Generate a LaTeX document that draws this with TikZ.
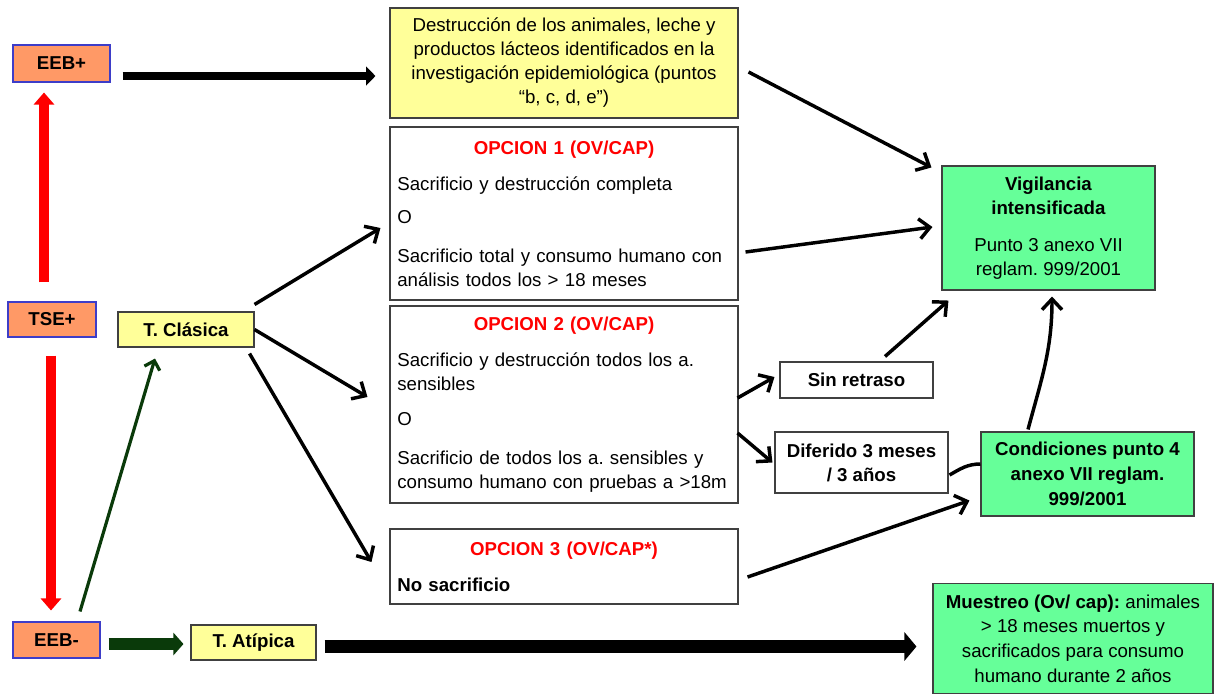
\documentclass[tikz,border=0pt]{standalone}
\usepackage{fontspec}
\setmainfont{Liberation Sans}
\usetikzlibrary{arrows.meta,calc}
\definecolor{salmon}{HTML}{FF9966}
\definecolor{paleyellow}{HTML}{FFFF99}
\definecolor{palegreen}{HTML}{66FF99}
\definecolor{darkgreen}{HTML}{0A3A0A}
\definecolor{boxblue}{HTML}{3D3DC8}
\definecolor{boxgray}{HTML}{404040}
\frenchspacing

\begin{document}
\begin{tikzpicture}[x=0.75pt, y=-0.75pt, font=\fontsize{14pt}{18pt}\selectfont,
    orangebox/.style={draw=boxblue, fill=salmon, line width=0.8pt, inner sep=0pt, font=\fontsize{14pt}{18pt}\selectfont\bfseries},
    yellowbox/.style={draw=boxgray, fill=paleyellow, line width=0.8pt, inner sep=0pt, align=center},
    whitebox/.style={draw=boxgray, fill=white, line width=0.8pt, inner sep=0pt, align=center, font=\fontsize{14pt}{18pt}\selectfont\bfseries},
    greenbox/.style={draw=boxgray, fill=palegreen, line width=0.8pt, inner sep=0pt, align=center},
    optbox/.style={draw=boxgray, fill=white, line width=0.8pt, minimum width=261pt, text width=250pt, inner xsep=5.5pt, inner ysep=2pt, align=left},
    linearrow/.style={line width=2.6pt, -{Straight Barb[length=8pt, width=15pt]}}]
  \useasboundingbox (0,0) rectangle (1216,694);

  \node[orangebox, minimum width=72.75pt, minimum height=27.75pt] (eebpos) at (61.5, 63.5) {EEB+};
  \node[orangebox, minimum width=66pt, minimum height=26.25pt] (tsepos) at (52, 319.5) {TSE+};
  \node[orangebox, minimum width=65.25pt, minimum height=27pt] (eebneg) at (56.5, 640) {EEB-};
  \node[yellowbox, minimum width=102pt, minimum height=26.25pt, font=\fontsize{14pt}{18pt}\selectfont\bfseries] (clasica) at (186, 329.5) {T. Clásica};
  \node[yellowbox, minimum width=93.75pt, minimum height=26.25pt, font=\fontsize{14pt}{18pt}\selectfont\bfseries] (atipica) at (253.5, 642.5) {T. Atípica};
  \node[yellowbox, minimum width=261pt, minimum height=82.5pt] (destruc) at (564, 63) {Destrucción de los animales, leche y\\productos lácteos identificados en la\\investigación epidemiológica (puntos\\“b, c, d, e”)};
  \node[optbox, minimum height=129.75pt] (opcion1) at (564, 213.5) {{\centering\color{red}\bfseries OPCION 1 (OV/CAP)\par}\vspace{9pt}
    Sacrificio y destrucción completa\par\vspace{7pt}
    O\par\vspace{11pt}
    Sacrificio total y consumo humano con\\análisis todos los > 18 meses};
  \node[optbox, minimum height=147.75pt] (opcion2) at (564, 404.5) {{\centering\color{red}\bfseries OPCION 2 (OV/CAP)\par}\vspace{9pt}
    Sacrificio y destrucción todos los a.\\sensibles\par\vspace{8pt}
    O\par\vspace{11pt}
    Sacrificio de todos los a. sensibles y\\consumo humano con pruebas a >18m};
  \node[optbox, minimum height=56.25pt] (opcion3) at (564, 566.5) {{\centering\color{red}\bfseries OPCION 3 (OV/CAP*)\par}\vspace{9pt}
    \textbf{No sacrificio}};
  \node[greenbox, minimum width=159.75pt, minimum height=93pt] (vigil) at (1048.5, 228) {\textbf{Vigilancia}\\\textbf{intensificada}\\[10pt]Punto 3 anexo VII\\reglam. 999/2001};
  \node[whitebox, minimum width=114.75pt, minimum height=27pt] (sinret) at (856.5, 380) {Sin retraso};
  \node[whitebox, minimum width=129.75pt, minimum height=45.75pt] (diferido) at (861.5, 462.5) {Diferido 3 meses\\/ 3 años};
  \node[greenbox, minimum width=159.75pt, minimum height=63pt, font=\fontsize{14pt}{18.5pt}\selectfont\bfseries] (condic) at (1087.5, 474) {Condiciones punto 4\\anexo VII reglam.\\999/2001};
  \node[greenbox, minimum width=210pt, minimum height=82.5pt, font=\fontsize{14pt}{18.5pt}\selectfont] (muestreo) at (1073, 638.5) {\textbf{Muestreo (Ov/ cap):} animales\\> 18 meses muertos y\\sacrificados para consumo\\humano durante 2 años};

  \draw[line width=6pt, -{Triangle[length=7pt, width=14pt]}] ($(eebpos.east)+(12,12.5)$) -- ($(destruc.west)+(-14,13)$);
  \draw[red, line width=7.5pt, -{Triangle[length=9pt, width=15pt]}] ($(tsepos.north)+(-8,-19)$) -- ($(eebpos.south)+(-17.5,10)$);
  \draw[red, line width=7.5pt, -{Triangle[length=9pt, width=15pt]}] ($(tsepos.south)+(-1,18)$) -- ($(eebneg.north)+(-5.5,-11)$);
  \draw[darkgreen, line width=2.4pt, -{Straight Barb[length=6pt, width=12pt]}] ($(eebneg.north)+(23.5,-10)$) -- ($(clasica.south)+(-31,11)$);
  \draw[darkgreen, line width=9pt, -{Triangle[length=7.5pt, width=16.5pt]}] ($(eebneg.east)+(8,4)$) -- ($(atipica.west)+(-7,1.5)$);
  \draw[line width=10pt, -{Triangle[length=9pt, width=21pt]}] ($(atipica.east)+(8,4)$) -- ($(muestreo.west)+(-16,8)$);

  \draw[linearrow] ($(destruc.east)+(10,9)$) -- ($(vigil.north west)+(-10,2)$);
  \draw[linearrow] ($(opcion1.east)+(7,38.5)$) -- ($(vigil.west)+(-9,-1)$);
  \draw[linearrow] ($(clasica.north east)+(0,-7)$) -- ($(opcion1.west)+(-9,14.5)$);
  \draw[linearrow] (clasica.east) -- ($(opcion2.west)+(-22,-7.5)$);
  \draw[linearrow] ($(clasica.south east)+(-5,6)$) -- ($(opcion3.west)+(-18,-4.5)$);
  \draw[linearrow] ($(opcion2.east)+(-1,-6.5)$) -- ($(sinret.west)+(-5,-3)$);
  \draw[linearrow] ($(opcion2.east)+(-1,28.5)$) -- ($(diferido.west)+(-2,0)$);
  \draw[linearrow] ($(sinret.north)+(28.5,-5)$) -- ($(vigil.south west)+(7,10)$);
  \draw[linearrow] ($(condic.north)+(-59.5,-2)$) to[out=75, in=-90] ($(vigil.south)+(3.5,6)$);
  \draw[line width=2.6pt] ($(diferido.east)+(1,12.5)$) to[out=30, in=180] ($(condic.west)+(0,-10)$);
  \draw[linearrow] ($(opcion3.east)+(9,10.5)$) -- ($(condic.south west)+(-11,-16)$);
\end{tikzpicture}
\end{document}
